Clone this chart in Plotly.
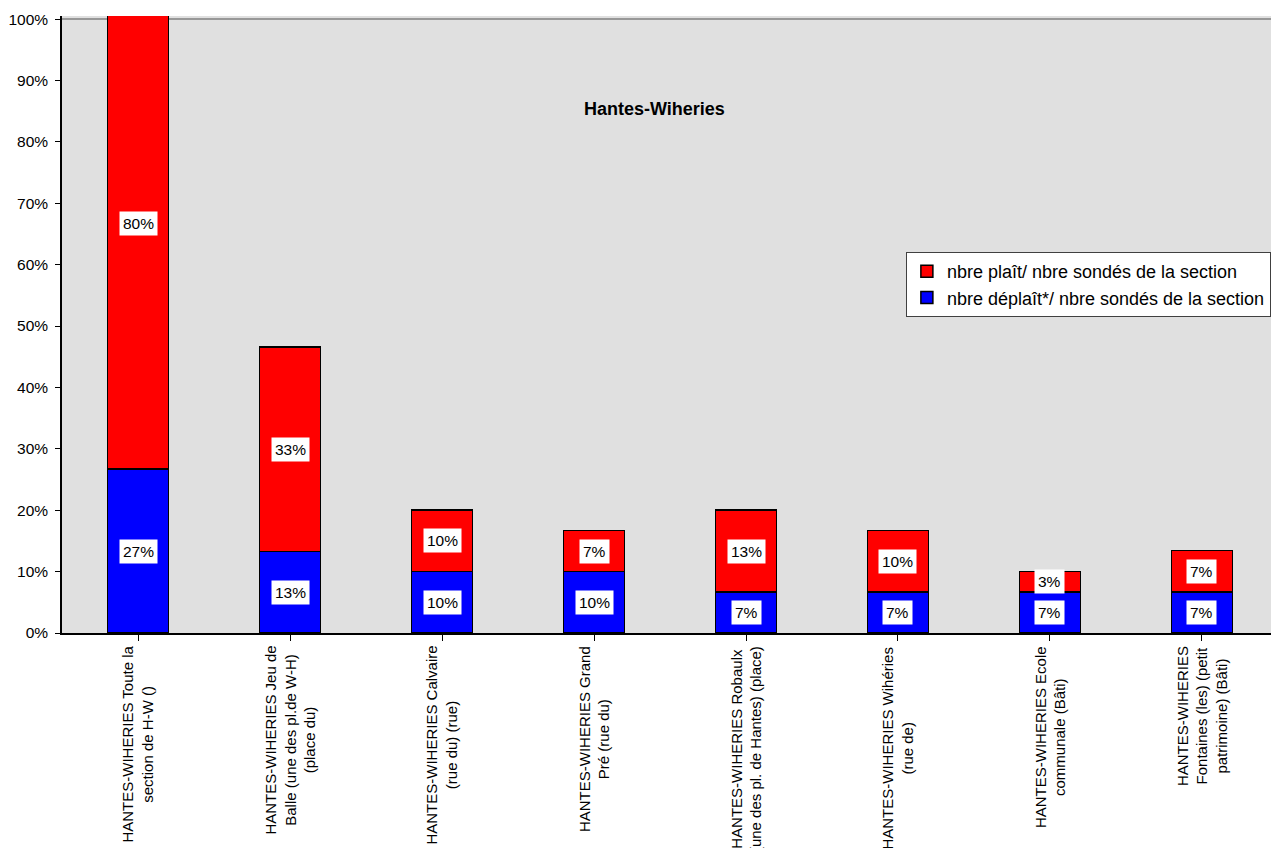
import plotly.graph_objects as go

# Survey sections (x categories), drawn as rotated multi-line labels
categories = [
    "HANTES-WIHERIES Toute la<br>section de H-W ()",
    "HANTES-WIHERIES Jeu de<br>Balle (une des pl.de W-H)<br>(place du)",
    "HANTES-WIHERIES Calvaire<br>(rue du) (rue)",
    "HANTES-WIHERIES Grand<br>Pré (rue du)",
    "HANTES-WIHERIES Robaulx<br>(une des pl. de Hantes) (place)",
    "HANTES-WIHERIES Wihéries<br>(rue de)",
    "HANTES-WIHERIES Ecole<br>communale (Bâti)",
    "HANTES-WIHERIES<br>Fontaines (les) (petit<br>patrimoine) (Bâti)",
]

# Share of respondents who dislike / like each place (fractions)
deplait = [0.267, 0.133, 0.100, 0.100, 0.067, 0.067, 0.067, 0.067]
plait = [0.800, 0.333, 0.100, 0.067, 0.133, 0.100, 0.033, 0.067]

series_names = [
    "nbre déplaît*/ nbre sondés de la section",
    "nbre plaît/ nbre sondés de la section",
]
title_text = "Hantes-Wiheries"
y_ticks = [i / 10 for i in range(11)]

FONT = "Liberation Sans, Arial, sans-serif"
x_idx = list(range(len(categories)))

fig = go.Figure()
fig.add_trace(go.Bar(
    x=x_idx, y=deplait, name=series_names[0],
    marker=dict(color="#0000FF", line=dict(color="black", width=1.5)),
    width=0.4,
))
fig.add_trace(go.Bar(
    x=x_idx, y=plait, name=series_names[1],
    marker=dict(color="#FF0000", line=dict(color="black", width=1.5)),
    width=0.4,
))

annotations = []
# value boxes centred in each stacked segment
for i in x_idx:
    segs = [(0, deplait[i]), (deplait[i], plait[i])]
    for base, v in segs:
        annotations.append(dict(
            x=i, y=base + v / 2, xref="x", yref="y",
            text=f"{v:.0%}", showarrow=False,
            xanchor="center", yanchor="middle",
            font=dict(family=FONT, size=15.5, color="black"),
            bgcolor="white", borderpad=3,
        ))

# rotated category labels below the axis
for i, cat in enumerate(categories):
    annotations.append(dict(
        x=i, y=-0.018, xref="x", yref="paper",
        text=cat, textangle=-90, showarrow=False,
        xanchor="center", yanchor="top", align="center",
        font=dict(family=FONT, size=15, color="black"),
    ))

annotations.append(dict(
    x=0.4897, y=0.849, xref="paper", yref="paper",
    xanchor="center", yanchor="middle",
    text=f"<b>{title_text}</b>", showarrow=False,
    font=dict(family=FONT, size=18, color="black"),
))

fig.update_layout(
    width=1271, height=848,
    margin=dict(l=62, r=0, t=16, b=215),
    paper_bgcolor="white",
    plot_bgcolor="#E0E0E0",
    barmode="stack",
    annotations=annotations,
    shapes=[dict(type="line", xref="paper", yref="y", x0=0, x1=1, y0=1, y1=1,
                 line=dict(color="#808080", width=1.5), layer="below")],
    legend=dict(
        x=0.698, y=0.6175, xanchor="left", yanchor="top",
        traceorder="reversed",
        bgcolor="white", bordercolor="#404040", borderwidth=1,
        font=dict(family=FONT, size=18, color="black"),
        itemwidth=30, tracegroupgap=0,
    ),
    font=dict(family=FONT, color="black"),
)

fig.update_xaxes(
    range=[-0.5, 7.454], tickvals=x_idx, showticklabels=False,
    ticks="outside", ticklen=6, tickcolor="black", tickson="boundaries",
    showline=True, linecolor="black", linewidth=1.5,
    showgrid=False, zeroline=False,
)
fig.update_yaxes(
    range=[0, 1.005], tickvals=y_ticks, tickformat=".0%",
    ticks="outside", ticklen=5, tickcolor="black",
    ticklabelstandoff=4,
    showline=True, linecolor="black", linewidth=1.5,
    showgrid=False, zeroline=False,
    tickfont=dict(family=FONT, size=15.5, color="black"),
)

fig.write_html("out.html")
